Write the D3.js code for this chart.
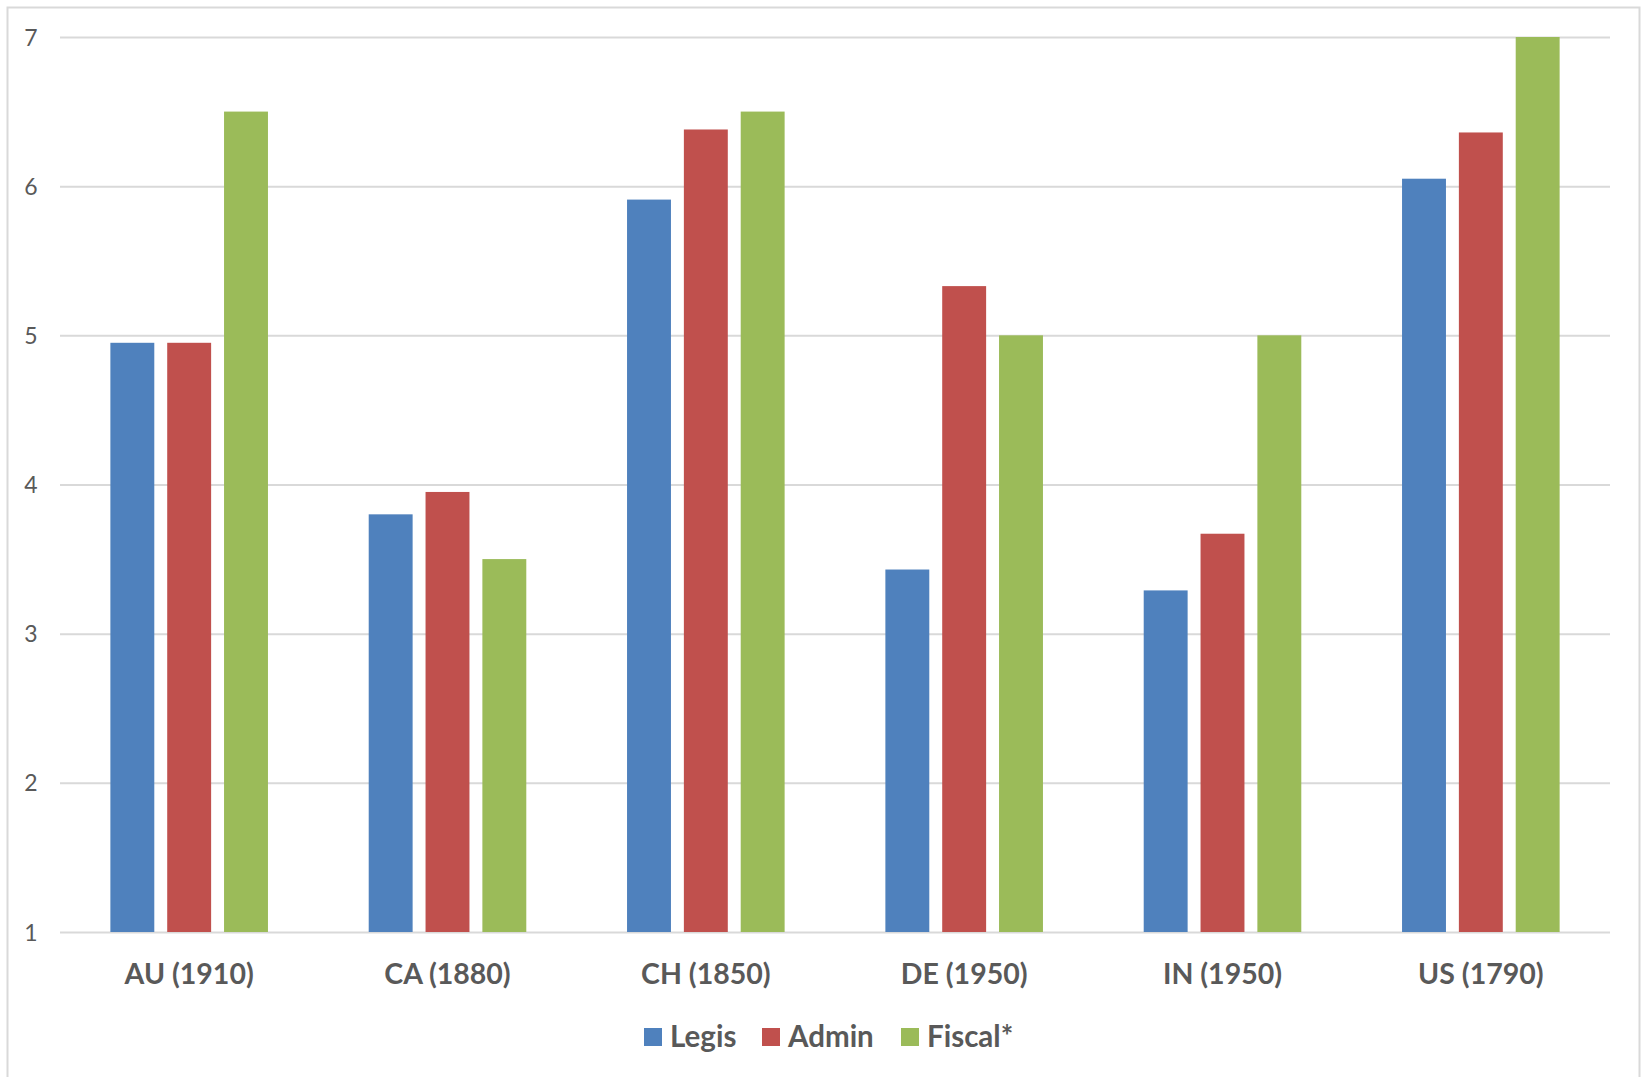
<!DOCTYPE html>
<html>
<head>
<meta charset="utf-8">
<script src="https://cdn.jsdelivr.net/npm/d3@7/dist/d3.min.js"></script>
<style>
html,body{margin:0;padding:0;background:#fff;}
svg{display:block;}
</style>
</head>
<body>
<svg id="chart" width="1642" height="1077"></svg>
<script>
const categories = ["AU (1910)", "CA (1880)", "CH (1850)", "DE (1950)", "IN (1950)", "US (1790)"];
const seriesNames = ["Legis", "Admin", "Fiscal*"];
const legis  = [4.95, 3.80, 5.91, 3.43, 3.29, 6.05];
const admin  = [4.95, 3.95, 6.38, 5.33, 3.67, 6.36];
const fiscal = [6.5, 3.5, 6.5, 5.0, 5.0, 7.0];
const yTicks = [1, 2, 3, 4, 5, 6, 7];
const colors = ["#4F81BD", "#C0504D", "#9BBB59"];

const series = [legis, admin, fiscal];
const W = 1642, H = 1077;
const margin = {left: 60, right: 32, top: 37, bottom: 145};
const svg = d3.select("#chart");
const font = "Lato, 'Open Sans', sans-serif";
const textColor = "#595959";

svg.append("rect").attr("x", 7.5).attr("y", 7.5).attr("width", 1632).attr("height", 1080)
  .attr("fill", "#fff").attr("stroke", "#d9d9d9").attr("stroke-width", 2);

const x = d3.scaleBand().domain(categories).range([margin.left, W - margin.right]).paddingInner(0).paddingOuter(0);
const y = d3.scaleLinear().domain([1, 7]).range([H - margin.bottom, margin.top]);

// gridlines
const yAxis = d3.axisLeft(y).tickValues(yTicks).tickSize(-(W - margin.right - margin.left)).tickFormat(d3.format("d"));
const gy = svg.append("g").attr("transform", `translate(${margin.left},0)`).call(yAxis);
gy.select(".domain").remove();
gy.selectAll(".tick line").attr("stroke", "#d9d9d9").attr("stroke-width", 2);
gy.selectAll(".tick text").attr("x", -29).attr("text-anchor", "middle").attr("dy", "0.35em")
  .attr("fill", textColor).style("font-family", font).style("font-size", "23px");

// bars
const bw = x.bandwidth();
const barW = bw * 0.17;
const gap = bw * 0.05;
const groupW = 3 * barW + 2 * gap;
const xs = d3.scaleBand().domain(seriesNames).range([(bw - groupW) / 2, (bw + groupW) / 2]).paddingInner(gap / (barW + gap)).paddingOuter(0);

series.forEach((vals, si) => {
  svg.append("g").selectAll("rect").data(vals).join("rect")
    .attr("x", (d, i) => x(categories[i]) + xs(seriesNames[si]))
    .attr("width", xs.bandwidth())
    .attr("y", d => y(d))
    .attr("height", d => y(1) - y(d))
    .attr("fill", colors[si]);
});

// x axis labels
const xAxis = d3.axisBottom(x).tickSize(0).tickPadding(0);
const gx = svg.append("g").attr("transform", `translate(0,${y(1)})`).call(xAxis);
gx.select(".domain").remove();
gx.selectAll(".tick text").attr("y", 52).attr("dy", 0)
  .attr("fill", textColor).style("font-family", font).style("font-size", "28.5px").style("font-weight", "bold");

// legend
const legendX = [644, 762, 901];
const lg = svg.append("g");
seriesNames.forEach((n, i) => {
  lg.append("rect").attr("x", legendX[i]).attr("y", 1028).attr("width", 18).attr("height", 18).attr("fill", colors[i]);
  lg.append("text").attr("x", legendX[i] + 26).attr("y", 1047).text(n)
    .attr("fill", textColor).style("font-family", font).style("font-size", "29.5px").style("font-weight", "bold");
});
</script>
</body>
</html>
